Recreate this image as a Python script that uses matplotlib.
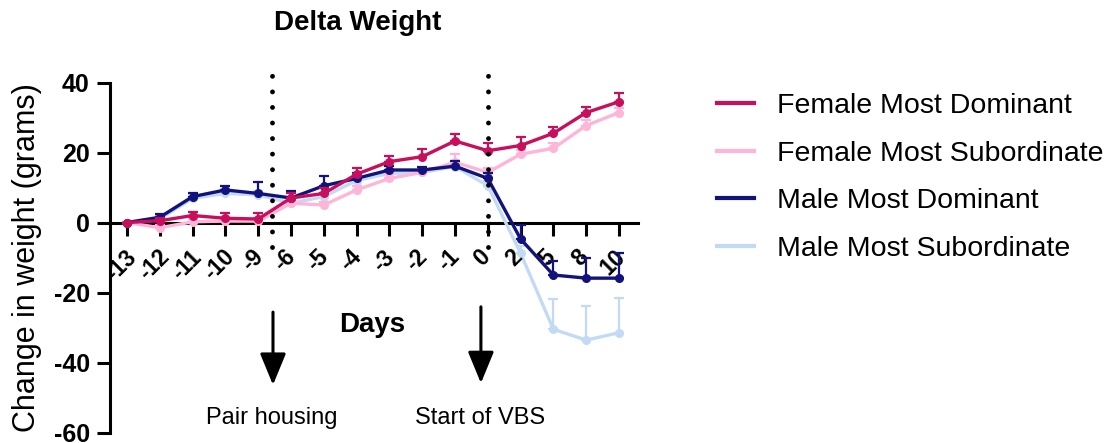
import matplotlib
matplotlib.use("Agg")
import matplotlib.pyplot as plt
from matplotlib.transforms import ScaledTranslation
import numpy as np

plt.rcParams['font.family'] = ['Liberation Sans', 'DejaVu Sans']
plt.rcParams['axes.unicode_minus'] = False

# Days of measurement (categorical, evenly spaced on the axis)
days = ['-13', '-12', '-11', '-10', '-9', '-6', '-5', '-4', '-3', '-2', '-1',
        '0', '2', '5', '8', '10']

# Mean change in weight (g) and SEM for each group
fem_dom = [0, 0.5, 2.0, 1.2, 1.0, 7.0, 8.3, 13.8, 17.4, 18.8, 23.3, 20.5, 22.0, 25.5, 31.4, 34.5]
fem_dom_err = [0, 0.8, 1.0, 1.4, 1.8, 1.5, 1.5, 1.9, 1.7, 2.1, 2.1, 2.1, 2.4, 1.9, 1.7, 2.4]
fem_sub = [0, -1.5, 0.2, 0.4, 0.4, 5.5, 5.0, 9.3, 12.6, 14.3, 17.2, 14.3, 19.5, 21.2, 27.7, 31.4]
fem_sub_err = [0, 0.8, 0.8, 0.8, 0.8, 1.2, 1.0, 1.2, 1.2, 1.2, 2.5, 1.2, 1.2, 1.6, 1.6, 1.2]
male_dom = [0, 1.5, 7.4, 9.3, 8.3, 7.0, 10.5, 12.6, 15.0, 15.0, 16.1, 12.6, -4.7, -15.0, -15.9, -15.9]
male_dom_err = [0, 0.8, 1.0, 1.2, 3.2, 1.9, 2.8, 1.5, 1.2, 1.0, 1.5, 1.5, 4.0, 4.0, 5.9, 7.1]
male_sub = [0, 1.0, 6.9, 8.3, 7.9, 5.5, 7.4, 12.0, 14.0, 14.3, 16.0, 10.5, -8.8, -30.5, -33.6, -31.5]
male_sub_err = [0, 0.8, 1.0, 1.0, 1.0, 1.0, 1.0, 1.0, 1.0, 1.0, 1.5, 1.5, 2.0, 8.6, 9.7, 9.8]

series = [
    ("Male Most Subordinate", male_sub, male_sub_err, "#C3DAF5", 1),
    ("Female Most Subordinate", fem_sub, fem_sub_err, "#FFB5D8", 2),
    ("Male Most Dominant", male_dom, male_dom_err, "#12127D", 3),
    ("Female Most Dominant", fem_dom, fem_dom_err, "#C90E5C", 4),
]
legend_order = ["Female Most Dominant", "Female Most Subordinate",
                "Male Most Dominant", "Male Most Subordinate"]

W, H = 1110, 443
fig = plt.figure(figsize=(W / 100, H / 100), dpi=100)
ax = fig.add_axes([110 / W, 1 - 432.5 / H, (638 - 110) / W, (432.5 - 82.5) / H])

x = np.arange(len(days))
handles = {}
for name, y, err, col, z in series:
    y = np.asarray(y, float)
    err = np.asarray(err, float)
    ax.errorbar(x, y, yerr=[np.zeros_like(err), err], fmt='none', ecolor=col,
                elinewidth=1.6, capsize=3.5, capthick=1.6, zorder=z)
    ln, = ax.plot(x, y, '-o', color=col, lw=2.4, ms=5.5, zorder=z + 0.5, label=name,
                  clip_on=False)
    handles[name] = ln

ax.set_xlim(-0.52, 15.58)
ax.set_ylim(-60, 40)
ax.set_yticks([-60, -40, -20, 0, 20, 40])

for s in ['top', 'right']:
    ax.spines[s].set_visible(False)
ax.spines['bottom'].set_position(('data', 0))
for s in ['left', 'bottom']:
    ax.spines[s].set_linewidth(2.2)
ax.spines['bottom'].set_zorder(0.5)

ax.tick_params(axis='both', direction='out', length=9.5, width=2.2)
ax.tick_params(axis='y', labelsize=18, pad=5)
ax.set_xticks(x)
ax.set_xticklabels(days, rotation=45, ha='center', va='top', fontsize=16.5,
                   fontweight='bold')
ax.tick_params(axis='x', pad=7)
for lab in ax.get_yticklabels():
    lab.set_fontweight('bold')
offset = ScaledTranslation(-6 / 100, 0, fig.dpi_scale_trans)
for lab in ax.get_xticklabels():
    lab.set_transform(lab.get_transform() + offset)

# Event markers: pair housing and start of VBS
for xv in [4.42, 11.0]:
    ax.plot([xv, xv], [-7, 43.6], color='black', lw=3.5, linestyle=(0, (0.001, 3.2)),
            dash_capstyle='round', clip_on=False, zorder=5)

arrow_kw = dict(arrowstyle='-|>,head_length=0.97,head_width=0.4', lw=2.2,
                color='black', mutation_scale=20, shrinkA=0, shrinkB=0)
ax.annotate('', xy=(4.45, -46.4), xytext=(4.45, -25.6), arrowprops=arrow_kw,
            annotation_clip=False)
ax.annotate('', xy=(10.79, -45.9), xytext=(10.79, -24.1), arrowprops=arrow_kw,
            annotation_clip=False)

fig.text(271.5 / W, 1 - 418 / H, "Pair housing", ha='center', va='center', fontsize=17)
fig.text(480 / W, 1 - 418 / H, "Start of VBS", ha='center', va='center', fontsize=17)

fig.text(358 / W, 1 - 23 / H, "Delta Weight", ha='center', va='center', fontsize=20,
         fontweight='bold')
fig.text(372 / W, 1 - 325 / H, "Days", ha='center', va='center', fontsize=20,
         fontweight='bold')
fig.text(27.5 / W, 1 - 258 / H, "Change in weight (grams)", ha='center', va='center',
         rotation=90, fontsize=22)

leg_lines = []
for name in legend_order:
    h = handles[name]
    leg_lines.append(plt.Line2D([], [], color=h.get_color(), lw=3))
fig.legend(leg_lines, legend_order, loc='upper left',
           bbox_to_anchor=(717 / W, 1 - 93 / H), frameon=False, fontsize=20.5,
           handlelength=1.3, handletextpad=0.8, labelspacing=0.76, borderpad=0,
           borderaxespad=0)

fig.savefig("out.png", dpi=100)
